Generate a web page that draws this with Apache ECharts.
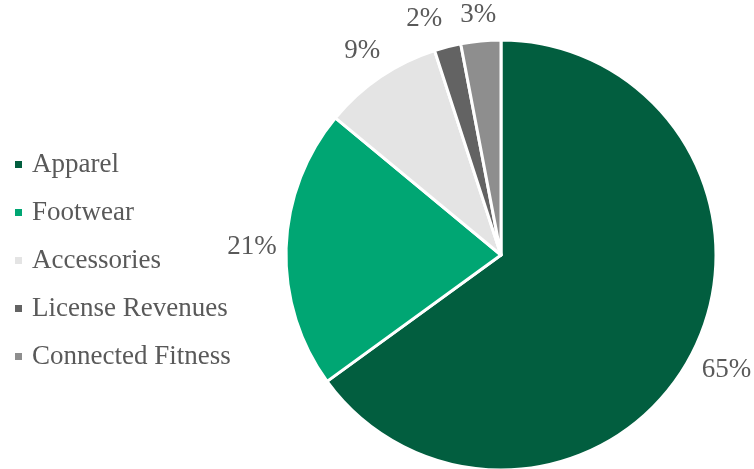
<!DOCTYPE html>
<html>
<head>
<meta charset="utf-8">
<script src="https://cdn.jsdelivr.net/npm/echarts@6/dist/echarts.min.js"></script>
<style>
  html, body { margin: 0; padding: 0; background: #fff; }
  #chart { width: 754px; height: 469px; }
</style>
</head>
<body>
<div id="chart"></div>
<script>
// Revenue mix by segment (percent of total)
const categories = ['Apparel', 'Footwear', 'Accessories', 'License Revenues', 'Connected Fitness'];
const shares = [65, 21, 9, 2, 3];
const colors = ['#025E3F', '#00A673', '#E4E4E4', '#636363', '#8E8E8E'];

const CENTER = [501, 255];
const RADIUS = 215;
const LABEL_GAP = 9;
const LABEL_MIN_SEP = 18;
const FONT = 'Liberation Serif';
const FONT_SIZE = 27;

const fmt = v => v + '%';

// Outside-end label placement: each label sits just beyond the rim along
// its slice's mid direction; neighbours that crowd each other are pushed apart.
const labelPos = (() => {
  const ctx = document.createElement('canvas').getContext('2d');
  ctx.font = FONT_SIZE + 'px "' + FONT + '"';
  const total = shares.reduce((a, b) => a + b, 0);
  const h = FONT_SIZE * 1.15;
  let acc = 0;
  const boxes = shares.map(v => {
    const a = ((acc + v / 2) / total) * Math.PI * 2;
    acc += v;
    const dx = Math.sin(a), dy = -Math.cos(a);
    const w = ctx.measureText(fmt(v)).width;
    const d = RADIUS + LABEL_GAP + Math.abs(dx) * w / 2 + Math.abs(dy) * h / 2;
    return { x: CENTER[0] + dx * d, y: CENTER[1] + dy * d, w, h };
  });
  // going counter-clockwise from the last slice, keep clearance between neighbours
  for (let i = boxes.length - 2; i >= 0; i--) {
    const a = boxes[i], b = boxes[i + 1];
    const vOverlap = Math.abs(a.y - b.y) < (a.h + b.h) / 2;
    if (!vOverlap || a.x > CENTER[0] || b.x > CENTER[0] + b.w) continue;
    const limit = b.x - b.w / 2 - LABEL_MIN_SEP - a.w / 2;
    if (a.x > limit) a.x = limit;
  }
  return boxes;
})();

const chart = echarts.init(document.getElementById('chart'));
chart.setOption({
  animation: false,
  color: colors,
  textStyle: { fontFamily: FONT },
  legend: {
    orient: 'vertical',
    left: 8,
    top: 146,
    icon: 'rect',
    itemWidth: 9,
    itemHeight: 9,
    itemGap: 21,
    textStyle: {
      fontFamily: FONT,
      fontSize: FONT_SIZE,
      lineHeight: 26,
      color: '#595959',
      padding: [0, 0, 0, 4]
    },
    data: categories
  },
  series: [{
    type: 'pie',
    center: CENTER,
    radius: RADIUS,
    startAngle: 90,
    clockwise: true,
    avoidLabelOverlap: false,
    itemStyle: { borderColor: '#ffffff', borderWidth: 3 },
    label: {
      show: true,
      position: 'outside',
      overflow: 'none',
      formatter: p => fmt(p.value),
      fontFamily: FONT,
      fontSize: FONT_SIZE,
      color: '#595959'
    },
    labelLine: { show: false },
    labelLayout: params => ({
      x: labelPos[params.dataIndex].x,
      y: labelPos[params.dataIndex].y,
      align: 'center',
      verticalAlign: 'middle'
    }),
    emphasis: { disabled: true },
    data: categories.map((name, i) => ({ name, value: shares[i] }))
  }]
});
</script>
</body>
</html>
